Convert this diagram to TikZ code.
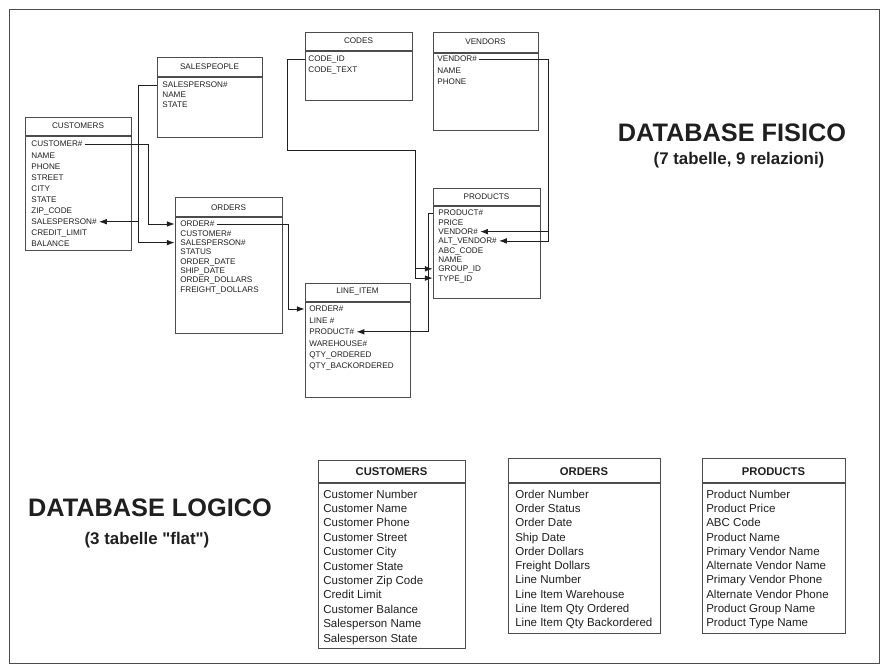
\documentclass[tikz,border=0pt]{standalone}
\usepackage{fontspec}
\setmainfont{Liberation Sans}
\usetikzlibrary{arrows.meta, calc, fit}
\definecolor{inkdk}{gray}{0.12}
\definecolor{framegray}{gray}{0.30}
\tikzset{
  tbox/.style     = {draw=framegray, line width=0.6pt, inner sep=0pt},
  thead/.style    = {draw=framegray, line width=0.9pt},
  ttitle/.style   = {font=\fontsize{5.8}{6.5}\selectfont, text=inkdk, inner sep=0pt},
  trow/.style     = {font=\fontsize{5.8}{6.5}\selectfont, text=inkdk, anchor=west,
                     inner sep=1.5pt, text height=4.2pt, text depth=0pt},
  ltitle/.style   = {font=\fontsize{8}{9}\selectfont\bfseries, text=inkdk, inner sep=0pt},
  lrow/.style     = {font=\fontsize{8.2}{9}\selectfont, text=inkdk, anchor=west,
                     inner sep=0pt, text height=5.9pt, text depth=0pt},
  relline/.style  = {draw=inkdk, line width=0.55pt},
  rel/.style      = {relline, -{Latex[length=5.5pt, width=4pt]}},
  bigtitle/.style = {font=\fontsize{18}{20}\selectfont\bfseries, text=inkdk},
  subtitle/.style = {font=\fontsize{12}{14}\selectfont\bfseries, text=inkdk},
}

\begin{document}
\begin{tikzpicture}[x=0.25mm, y=-0.25mm]
  \useasboundingbox (0,0) rectangle (887,672);
  \draw[framegray, line width=0.6pt] (9,9) rectangle (879,663);

  % physical tables
  \node[tbox, fit={(25,117) (131,250)}] (customers) {};
  \node[ttitle] at (78,126) {CUSTOMERS};
  \draw[thead] (25,136) -- (131,136);
  \foreach \t [count=\i] in {CUSTOMER\#, NAME, PHONE, STREET, CITY, STATE, ZIP\_CODE,
      SALESPERSON\#, CREDIT\_LIMIT, BALANCE}
    \node[trow] (cu\i) at (29,{144+(\i-1)*11.1}) {\t};

  \node[tbox, fit={(157,57) (262,137)}] (salespeople) {};
  \node[ttitle] at (209.5,67) {SALESPEOPLE};
  \draw[thead] (157,77) -- (262,77);
  \foreach \t [count=\i] in {SALESPERSON\#, NAME, STATE}
    \node[trow] (sp\i) at (160,{85+(\i-1)*9.7}) {\t};

  \node[tbox, fit={(175,197) (282,333)}] (orders) {};
  \node[ttitle] at (228.5,208) {ORDERS};
  \draw[thead] (175,217) -- (282,217);
  \foreach \t [count=\i] in {ORDER\#, CUSTOMER\#, SALESPERSON\#, STATUS, ORDER\_DATE,
      SHIP\_DATE, ORDER\_DOLLARS, FREIGHT\_DOLLARS}
    \node[trow] (or\i) at (178,{224+(\i-1)*9.3}) {\t};

  \node[tbox, fit={(305,32) (412,100)}] (codes) {};
  \node[ttitle] at (358.5,41) {CODES};
  \draw[thead] (305,51) -- (412,51);
  \foreach \t [count=\i] in {CODE\_ID, CODE\_TEXT}
    \node[trow] (co\i) at (306,{59+(\i-1)*11}) {\t};

  \node[tbox, fit={(433,32) (538,130)}] (vendors) {};
  \node[ttitle] at (485.5,42) {VENDORS};
  \draw[thead] (433,53) -- (538,53);
  \foreach \t [count=\i] in {VENDOR\#, NAME, PHONE}
    \node[trow] (ve\i) at (435,{59+(\i-1)*11.5}) {\t};

  \node[tbox, fit={(433,188) (540,298)}] (products) {};
  \node[ttitle] at (486.5,197) {PRODUCTS};
  \draw[thead] (433,206) -- (540,206);
  \foreach \t [count=\i] in {PRODUCT\#, PRICE, VENDOR\#, ALT\_VENDOR\#, ABC\_CODE, NAME,
      GROUP\_ID, TYPE\_ID}
    \node[trow] (pr\i) at (436,{213+(\i-1)*9.3}) {\t};

  \node[tbox, fit={(305,283) (410,397)}] (lineitem) {};
  \node[ttitle] at (357.5,292) {LINE\_ITEM};
  \draw[thead] (305,302) -- (410,302);
  \foreach \t [count=\i] in {ORDER\#, LINE \#, PRODUCT\#, WAREHOUSE\#, QTY\_ORDERED,
      QTY\_BACKORDERED}
    \node[trow] (li\i) at (307,{309+(\i-1)*11.4}) {\t};

  % relations
  \coordinate (spbus) at (138,0);
  \draw[rel] (sp1 -| salespeople.west) -- (spbus |- sp1) |- (or3 -| orders.west);
  \draw[rel] (spbus |- cu8) -- (cu8.east);
  \coordinate (cubus) at (148,0);
  \draw[rel] (cu1.east) -- (cubus |- cu1) |- (or1 -| orders.west);
  \coordinate (orbus) at (288,0);
  \draw[rel] (or1.east) -- (orbus |- or1) |- (li1 -| lineitem.west);
  \coordinate (prbus) at (428,0);
  \draw[rel] (pr1 -| products.west) -- (prbus |- pr1) |- (li3.east);
  \coordinate (vebus) at (548,0);
  \draw[rel] (ve1.east) -- (vebus |- ve1) |- (pr4.east);
  \draw[rel] (vebus |- pr3) -- (pr3.east);
  \coordinate (cobus) at (287,150);
  \coordinate (cobend) at (415,150);
  \draw[relline] (co1 -| codes.west) -- (cobus |- co1) -- (cobus) -- (cobend);
  \draw[rel] (cobend) |- (pr8 -| products.west);
  \draw[rel] (cobend |- pr7) -- (pr7 -| products.west);

  \node[bigtitle] (fisico) at (732,133) {DATABASE FISICO};
  \node[subtitle] (fisicosub) at (739,160) {(7 tabelle, 9 relazioni)};

  % logical tables
  \node[tbox, fit={(318,460) (465,648)}] (lcust) {};
  \node[ltitle] at (391.5,472) {CUSTOMERS};
  \draw[thead, line width=1.3pt] (318,483) -- (465,483);
  \foreach \t [count=\i] in {Customer Number, Customer Name, Customer Phone, Customer Street,
      Customer City, Customer State, Customer Zip Code, Credit Limit, Customer Balance,
      Salesperson Name, Salesperson State}
    \node[lrow] (lc\i) at (323,{494+(\i-1)*14.4}) {\t};

  \node[tbox, fit={(508,458) (660,633)}] (lord) {};
  \node[ltitle] at (584,472) {ORDERS};
  \draw[thead, line width=1.3pt] (508,483) -- (660,483);
  \foreach \t [count=\i] in {Order Number, Order Status, Order Date, Ship Date, Order Dollars,
      Freight Dollars, Line Number, Line Item Warehouse, Line Item Qty Ordered,
      Line Item Qty Backordered}
    \node[lrow] (lo\i) at (515,{494+(\i-1)*14.3}) {\t};

  \node[tbox, fit={(702,458) (845,633)}] (lprod) {};
  \node[ltitle] at (773.5,472) {PRODUCTS};
  \draw[thead, line width=1.3pt] (702,483) -- (845,483);
  \foreach \t [count=\i] in {Product Number, Product Price, ABC Code, Product Name,
      Primary Vendor Name, Alternate Vendor Name, Primary Vendor Phone,
      Alternate Vendor Phone, Product Group Name, Product Type Name}
    \node[lrow] (lp\i) at (706,{494+(\i-1)*14.3}) {\t};

  \node[bigtitle] (logico) at (150,508) {DATABASE LOGICO};
  \node[subtitle] (logicosub) at (147,540) {(3 tabelle \textquotedbl flat\textquotedbl)};
\end{tikzpicture}
\end{document}
